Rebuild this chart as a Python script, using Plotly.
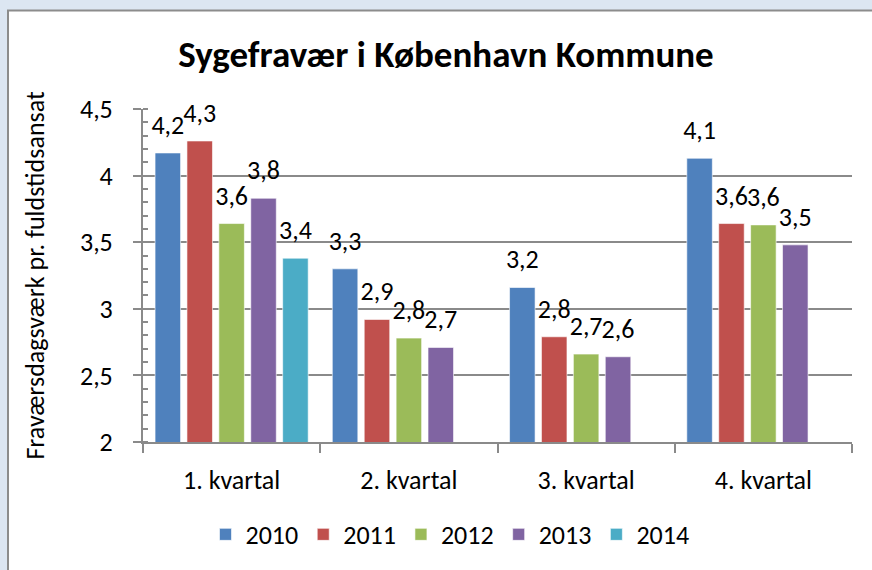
import plotly.graph_objects as go

categories = ["1. kvartal", "2. kvartal", "3. kvartal", "4. kvartal"]
years = ["2010", "2011", "2012", "2013", "2014"]
values = {
    "2010": [4.17, 3.30, 3.16, 4.13],
    "2011": [4.26, 2.92, 2.79, 3.64],
    "2012": [3.64, 2.78, 2.66, 3.63],
    "2013": [3.83, 2.71, 2.64, 3.48],
    "2014": [3.38, None, None, None],
}
colors = ["#4F81BD", "#C0504D", "#9BBB59", "#8064A2", "#4BACC6"]

title_text = "Sygefravær i København Kommune"
y_title = "Fraværsdagsværk pr. fuldstidsansat"

FONT = "Carlito, Calibri, Lato, sans-serif"
GRAY = "#8a8a8a"
FS = 26

def fmt(v):
    return None if v is None else f"{v:.1f}".replace(".", ",")

fig = go.Figure()
for yr, col in zip(years, colors):
    vals = values[yr]
    fig.add_trace(go.Bar(
        name=yr, x=categories, y=vals,
        text=[fmt(v) for v in vals],
        texttemplate=f"<span style='font-size:{FS}px'>%{{text}}</span><br>\u00a0",
        textposition="outside",
        textfont=dict(size=10, color="black", family=FONT),
        constraintext="none",
        cliponaxis=False,
        marker=dict(color=col, line=dict(color="rgba(255,255,255,0.6)", width=1)),
    ))

W, H = 872, 570
L, R, T, B = 143, 20, 109, 126
pw, ph = W - L - R, H - T - B

def px2x(p):
    return (p - L) / pw

def px2y(p):
    return (H - B - p) / ph

fig.update_layout(
    width=W, height=H,
    margin=dict(l=L, r=R, t=T, b=B),
    paper_bgcolor="#dce6f2",
    plot_bgcolor="white",
    separators=",.",
    barmode="group",
    bargap=0.1,
    bargroupgap=0.2,
    font=dict(family=FONT, size=FS, color="black"),
    title=dict(text=title_text, font=dict(family=FONT, size=37, color="black", weight="bold"),
               xref="container", x=446 / W, xanchor="center",
               yref="container", y=1 - 54 / H, yanchor="middle"),
    legend=dict(orientation="h", x=px2x(450), xanchor="center", y=px2y(537), yanchor="middle",
                font=dict(size=FS), bgcolor="rgba(0,0,0,0)"),
    shapes=[dict(type="rect", xref="paper", yref="paper", layer="below",
                 x0=px2x(8), x1=px2x(W + 10), y0=px2y(H + 10), y1=px2y(10),
                 fillcolor="white", line=dict(color="#8c8c8c", width=2))],
)

fig.update_yaxes(
    range=[2, 4.5], dtick=0.5, tick0=2,
    showgrid=True, gridcolor=GRAY, gridwidth=1.5,
    showline=True, linecolor=GRAY, linewidth=2,
    ticks="outside", ticklen=8, tickcolor=GRAY, tickwidth=2,
    ticklabelstandoff=15,
    minor=dict(dtick=0.1, ticks="inside", ticklen=5, tickcolor=GRAY, tickwidth=1.5, showgrid=False),
    title=dict(text=y_title, font=dict(size=FS), standoff=28),
    zeroline=False,
)
fig.update_xaxes(
    type="category",
    showline=True, linecolor=GRAY, linewidth=2,
    ticks="outside", tickson="boundaries", ticklen=9, tickcolor=GRAY, tickwidth=2,
    ticklabelstandoff=14,
    showgrid=False,
)

fig.write_html("out.html", config={"displayModeBar": False},
               post_script="document.body.style.margin='0';document.body.style.background='#dce6f2';")
